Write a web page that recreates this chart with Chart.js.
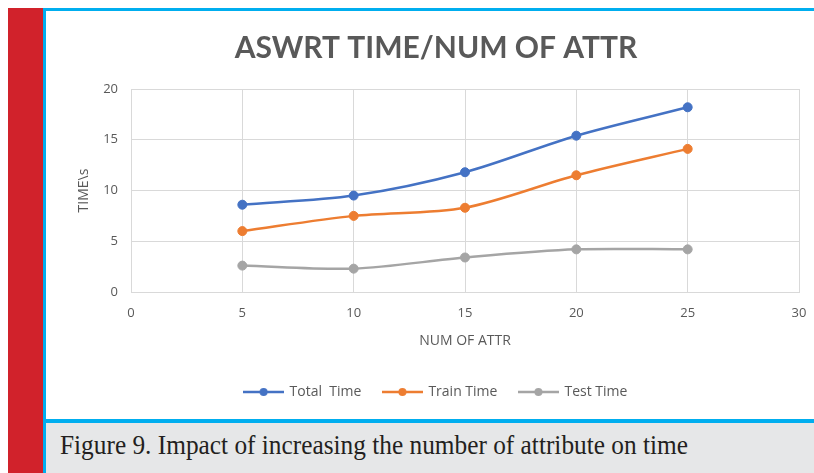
<!DOCTYPE html>
<html>
<head>
<meta charset="utf-8">
<script src="https://cdn.jsdelivr.net/npm/chart.js@4/dist/chart.umd.min.js"></script>
<style>
  html, body { margin: 0; padding: 0; background: #fff; width: 814px; height: 473px; overflow: hidden; }
  body { position: relative; }
  #bar { position: absolute; left: 8px; top: 8px; width: 35px; height: 465px; background: #d1222b; }
  #frameTop { position: absolute; left: 43px; top: 8px; width: 771px; height: 3px; background: #00aeef; }
  #frameLeft { position: absolute; left: 43px; top: 8px; width: 3px; height: 465px; background: #00aeef; }
  #sep { position: absolute; left: 46px; top: 419px; width: 768px; height: 4px; background: #00aeef; }
  #cap { position: absolute; left: 46px; top: 423px; width: 768px; height: 50px; background: #e6e7e8; overflow: hidden; }
  #capText { position: absolute; left: 14px; top: 9px; font-family: "Liberation Serif", serif; font-size: 27px; line-height: 27px;
             color: #231f20; white-space: nowrap; transform-origin: left top; }
  #wrap { position: absolute; left: 46px; top: 11px; width: 768px; height: 408px; }
  #chart { filter: blur(0.45px); }
</style>
</head>
<body>
<div id="bar"></div>
<div id="frameTop"></div>
<div id="frameLeft"></div>
<div id="wrap"><canvas id="chart" width="768" height="408"></canvas></div>
<div id="sep"></div>
<div id="cap"><span id="capText">Figure 9. Impact of increasing the number of attribute on time</span></div>
<script>
// Number of attributes and the measured times (seconds)
const attrCounts = [5, 10, 15, 20, 25];
const totalTime = [8.6, 9.5, 11.8, 15.4, 18.2];
const trainTime = [6.0, 7.5, 8.3, 11.5, 14.1];
const testTime  = [2.6, 2.3, 3.4, 4.2, 4.2];
const seriesNames = ['Total  Time', 'Train Time', 'Test Time'];
const seriesColors = ['#4472c4', '#ed7d31', '#a5a5a5'];
const xTicks = [0, 5, 10, 15, 20, 25, 30];
const yTicks = [0, 5, 10, 15, 20];

// Caption: condensed serif, squeezed to its column width
const cap = document.getElementById('capText');
const capW = cap.getBoundingClientRect().width;
cap.style.transform = 'scaleX(' + (628 / capW) + ')';

const TITLE_FONT = 'Lato, "Open Sans", sans-serif';
const FONT = '"Open Sans", Lato, sans-serif';
const TEXT = '#595959';
const GRID = '#d9d9d9';

// Legend markers: short line with a dot in the middle
function marker(color) {
  const c = document.createElement('canvas');
  c.width = 41; c.height = 12;
  const g = c.getContext('2d');
  g.strokeStyle = color; g.lineWidth = 2.5;
  g.beginPath(); g.moveTo(0, 6); g.lineTo(41, 6); g.stroke();
  g.fillStyle = color;
  g.beginPath(); g.arc(20.5, 6, 4, 0, Math.PI * 2); g.fill();
  return c;
}
const markers = seriesColors.map(marker);

function pts(ys) { return attrCounts.map((x, i) => ({ x: x, y: ys[i] })); }

const series = [totalTime, trainTime, testTime];
const datasets = series.map((ys, i) => ({
  label: seriesNames[i],
  data: pts(ys),
  borderColor: seriesColors[i],
  backgroundColor: seriesColors[i],
  pointBackgroundColor: seriesColors[i],
  pointBorderColor: seriesColors[i],
  borderWidth: 2.5,
  pointRadius: 4.5,
  pointBorderWidth: 1,
  tension: 0.3,
  fill: false
}));

new Chart(document.getElementById('chart'), {
  type: 'line',
  data: { datasets: datasets },
  options: {
    responsive: false,
    animation: false,
    layout: { padding: { left: 27, right: 15, top: 0, bottom: 10 } },
    plugins: {
      title: {
        display: true,
        text: 'ASWRT TIME/NUM OF ATTR',
        color: TEXT,
        font: { family: TITLE_FONT, size: 30, weight: 'bold' },
        padding: { top: 19, bottom: 23 }
      },
      legend: {
        position: 'bottom',
        labels: {
          color: TEXT,
          font: { family: FONT, size: 14 },
          usePointStyle: true,
          pointStyleWidth: 38,
          padding: 22,
          generateLabels: (chart) => {
            const items = Chart.defaults.plugins.legend.labels.generateLabels(chart);
            items.forEach((it, i) => { it.pointStyle = markers[i]; });
            return items;
          }
        }
      },
      tooltip: { enabled: false }
    },
    scales: {
      x: {
        type: 'linear',
        min: xTicks[0],
        max: xTicks[xTicks.length - 1],
        afterBuildTicks: (s) => { s.ticks = xTicks.map(v => ({ value: v })); },
        afterFit: (s) => { s.height = 71; },
        grid: { color: GRID, lineWidth: 1, drawTicks: true, tickLength: 13, tickColor: 'rgba(0,0,0,0)' },
        border: { color: GRID, width: 1 },
        ticks: { color: TEXT, font: { family: FONT, size: 13 }, padding: 0 },
        title: {
          display: true,
          text: 'NUM OF ATTR',
          color: TEXT,
          font: { family: FONT, size: 14 },
          padding: { top: 0, bottom: 13.6 }
        }
      },
      y: {
        min: yTicks[0],
        max: yTicks[yTicks.length - 1],
        afterBuildTicks: (s) => { s.ticks = yTicks.map(v => ({ value: v })); },
        afterFit: (s) => { s.width = 58; },
        grid: { color: GRID, lineWidth: 1, drawTicks: false },
        border: { display: false },
        ticks: { color: TEXT, font: { family: FONT, size: 13 }, padding: 13 },
        title: {
          display: true,
          text: 'TIME\\s',
          color: TEXT,
          font: { family: FONT, size: 14 },
          padding: { top: 3, bottom: 0 }
        }
      }
    }
  }
});
</script>
</body>
</html>
